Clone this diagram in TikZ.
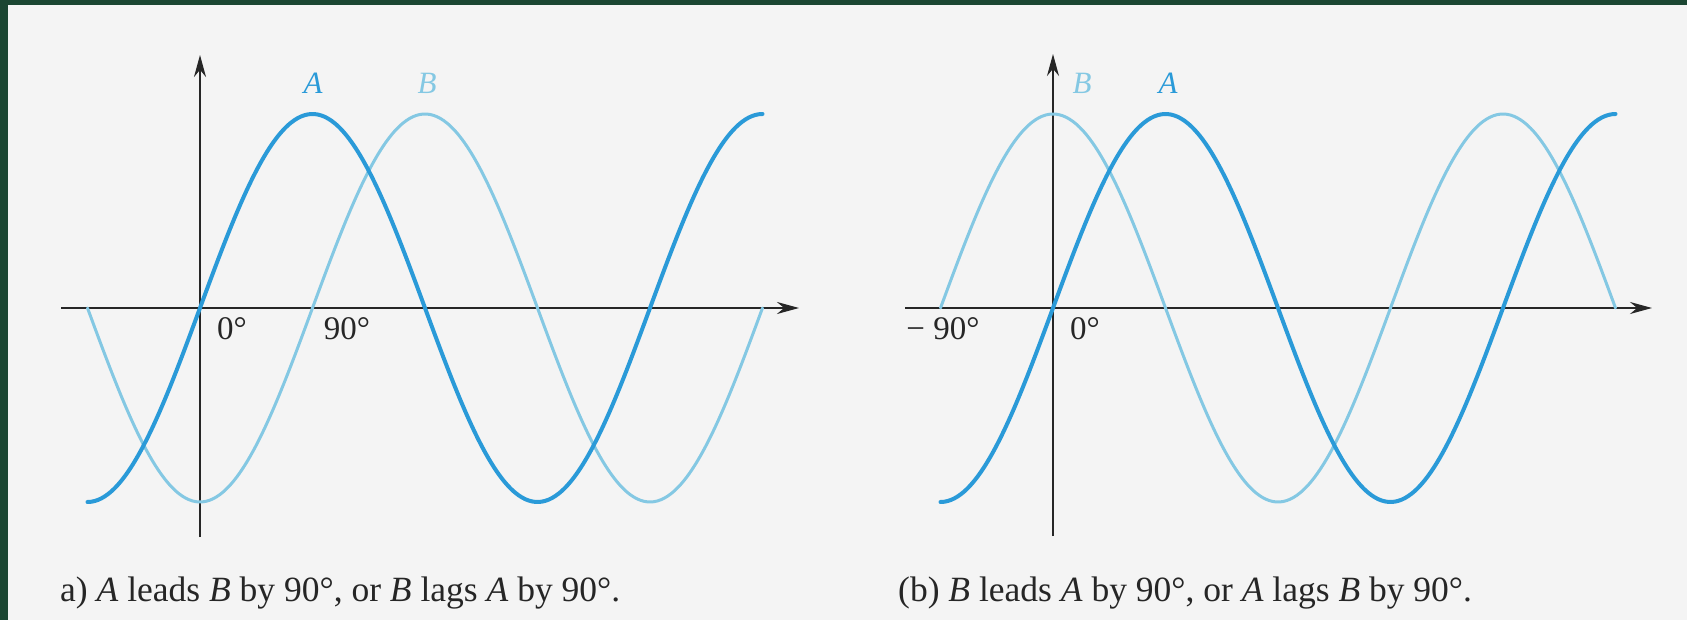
\documentclass[tikz,border=0pt]{standalone}
\usepackage{fontspec}
\setmainfont{Liberation Serif}
\usetikzlibrary{arrows.meta}
\definecolor{frame}{HTML}{1B4632}
\definecolor{paper}{HTML}{F4F4F4}
\definecolor{cA}{HTML}{2A9AD8}
\definecolor{cB}{HTML}{84C8E3}
\definecolor{axis}{HTML}{262626}
\tikzset{
  axisline/.style={draw=axis, line width=2pt, -{Stealth[length=22pt,width=12pt]}},
  waveA/.style={draw=cA, line width=4pt, line cap=round},
  waveB/.style={draw=cB, line width=3pt, line cap=round},
  tick/.style={font=\fontsize{33}{38}\selectfont, text=axis, inner sep=0pt},
  curvelab/.style={font=\fontsize{31}{36}\selectfont\itshape, inner sep=0pt},
  caption/.style={font=\fontsize{35.5}{40}\selectfont, text=axis, inner sep=0pt, anchor=base west}
}
\begin{document}
\begin{tikzpicture}[x=1pt,y=-1pt]
\useasboundingbox (0,0) rectangle (1687,620);
\fill[frame] (0,0) rectangle (1687,620);
\fill[paper] (8,5) rectangle (1687,620);

% ---------- panel (a) ----------
\coordinate (aL) at (61,308);
\coordinate (aR) at (799,308);
\coordinate (aB) at (200,537);
\coordinate (aT) at (200,55);
\draw[axisline] (aL) -- (aR);
\draw[axisline] (aB) -- (aT);
\draw[waveB] plot[domain=87.5:762.5,samples=200,smooth] (\x,{308-194*sin((\x-312.5)*0.8)});
\draw[waveA] plot[domain=87.5:762.5,samples=200,smooth] (\x,{308-194*sin((\x-200)*0.8)});
\node[curvelab, text=cA] (labA1) at (313,83) {A};
\node[curvelab, text=cB] (labB1) at (427,83) {B};
\node[tick] (t0a) at (232,329) {0°};
\node[tick] (t90a) at (347,329) {90°};
\node[caption] (capa) at (60,601) {a) \textit{A} leads \textit{B} by 90°, or \textit{B} lags \textit{A} by 90°.};

% ---------- panel (b) ----------
\coordinate (bL) at (905,308);
\coordinate (bR) at (1652,308);
\coordinate (bB) at (1053,536);
\coordinate (bT) at (1053,54);
\draw[axisline] (bL) -- (bR);
\draw[axisline] (bB) -- (bT);
\draw[waveB] plot[domain=940.5:1615.5,samples=200,smooth] (\x,{308-194*cos((\x-1053)*0.8)});
\draw[waveA] plot[domain=940.5:1615.5,samples=200,smooth] (\x,{308-194*sin((\x-1053)*0.8)});
\node[curvelab, text=cB] (labB2) at (1082,83) {B};
\node[curvelab, text=cA] (labA2) at (1168,83) {A};
\node[tick] (tm90b) at (943,329) {− 90°};
\node[tick] (t0b) at (1085,329) {0°};
\node[caption] (capb) at (898,601) {(b) \textit{B} leads \textit{A} by 90°, or \textit{A} lags \textit{B} by 90°.};
\end{tikzpicture}
\end{document}
